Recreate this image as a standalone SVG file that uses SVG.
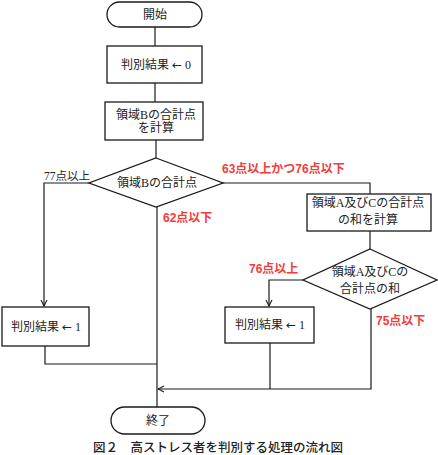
<svg xmlns="http://www.w3.org/2000/svg" width="438" height="455" viewBox="0 0 438 455">
<style>
.s{fill:#fff;stroke:#1a1a1a;stroke-width:1.3}
.l{fill:none;stroke:#1a1a1a;stroke-width:1.2}
.t{font-family:"Liberation Serif","Noto Sans CJK JP",serif;font-size:12px;fill:#222;text-anchor:middle;dominant-baseline:central}
.ar{font-family:"DejaVu Sans","Noto Sans CJK JP",sans-serif;font-size:12px}
.r{font-family:"Liberation Sans","Noto Sans CJK JP",sans-serif;font-size:12px;font-weight:bold;fill:#f23c3c}
.b{font-family:"Liberation Serif","Noto Sans CJK JP",serif;font-size:11.5px;fill:#222}
.c{font-family:"Liberation Sans","Noto Sans CJK JP",sans-serif;font-size:12.5px;font-weight:500;fill:#222}
</style>
<defs>
<marker id="a" markerWidth="8" markerHeight="8" refX="7" refY="4" orient="auto" markerUnits="userSpaceOnUse">
<path d="M1,1 L7,4 L1,7" fill="none" stroke="#1a1a1a" stroke-width="1.1"/>
</marker>
</defs>
<rect width="438" height="455" fill="#fff"/>
<g id="connectors">
<path class="l" d="M155,27 V46"/>
<path class="l" d="M155,83 V102"/>
<path class="l" d="M156,140 V158"/>
<path class="l" d="M89,183 H44 V306" marker-end="url(#a)"/>
<path class="l" d="M223,183 H370 V194"/>
<path class="l" d="M157,207 V407"/>
<path class="l" d="M370,231 V249"/>
<path class="l" d="M303,280 H269 V306" marker-end="url(#a)"/>
<path class="l" d="M45,346 V364 H157"/>
<path class="l" d="M270,343 V389"/>
<path class="l" d="M371,309 V389 H158" marker-end="url(#a)"/>
</g>
<g id="start">
<rect class="s" x="107" y="2" width="95" height="25" rx="12.5"/>
<text class="t" x="155" y="15">開始</text>
</g>
<g id="init">
<rect class="s" x="107" y="46" width="95" height="37"/>
<text class="t" x="156" y="65">判別結果 <tspan class="ar">←</tspan> 0</text>
</g>
<g id="calcB">
<rect class="s" x="105" y="102" width="98" height="38"/>
<text class="t" x="156" y="115">領域Bの合計点</text>
<text class="t" x="156" y="128">を計算</text>
</g>
<g id="decB">
<polygon class="s" points="156,158 223,183 156,207 89,183"/>
<text class="t" x="157" y="183">領域Bの合計点</text>
</g>
<text class="b" x="44" y="180">77点以上</text>
<text class="r" x="163" y="222">62点以下</text>
<text class="r" x="222" y="173">63点以上かつ76点以下</text>
<g id="calcAC">
<rect class="s" x="307" y="194" width="124" height="37"/>
<text class="t" x="368" y="203">領域A及びCの合計点</text>
<text class="t" x="368" y="220">の和を計算</text>
</g>
<g id="decAC">
<polygon class="s" points="370,249 437,280 370,309 303,280"/>
<text class="t" x="370" y="272">領域A及びCの</text>
<text class="t" x="370" y="289">合計点の和</text>
</g>
<text class="r" x="249" y="273">76点以上</text>
<text class="r" x="376" y="325">75点以下</text>
<g id="set1left">
<rect class="s" x="2" y="307" width="87" height="39"/>
<text class="t" x="46" y="327">判別結果 <tspan class="ar">←</tspan> 1</text>
</g>
<g id="set1right">
<rect class="s" x="225" y="307" width="89" height="36"/>
<text class="t" x="270" y="325">判別結果 <tspan class="ar">←</tspan> 1</text>
</g>
<g id="end">
<rect class="s" x="111" y="407" width="94" height="27" rx="13.5"/>
<text class="t" x="158" y="421">終了</text>
</g>
<text class="c" x="93" y="452">図２　高ストレス者を判別する処理の流れ図</text>
</svg>
